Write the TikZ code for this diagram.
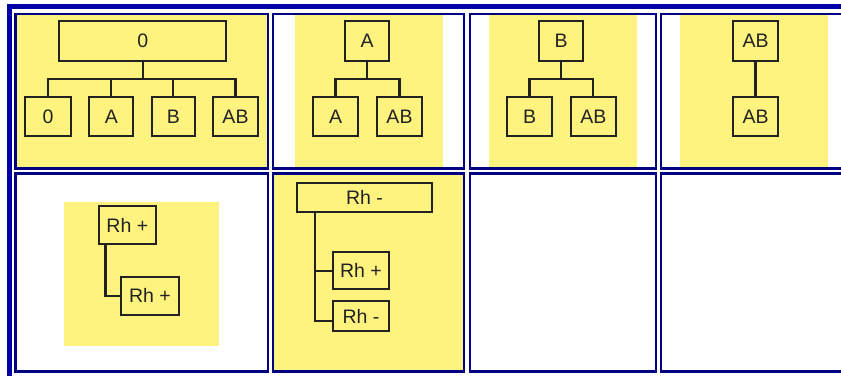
\documentclass[tikz,border=0pt]{standalone}
\usepackage{fontspec}
\setmainfont{Liberation Sans}
\definecolor{outerblue}{HTML}{0000A6}
\definecolor{cellblue}{HTML}{000080}
\definecolor{pyellow}{HTML}{FFF380}
\definecolor{ink}{HTML}{222222}
\begin{document}
\begin{tikzpicture}[x=1pt,y=-1pt,
  cellframe/.style={draw=cellblue,line width=2.6pt},
  panel/.style={fill=pyellow},
  bx/.style={draw=ink,line width=2.2pt,fill=pyellow,inner sep=0pt,text=ink,
    font=\fontsize{19.5}{22}\selectfont},
  wire/.style={draw=ink,line width=2.2pt}]
\useasboundingbox (0,0) rectangle (841,375);
\clip (0,0) rectangle (841,375);
\fill[white] (0,0) rectangle (841,375);
% outer frame
\draw[outerblue,line width=5.2pt] (9.5,6.5) rectangle (900,400);
% yellow panels
\fill[panel] (15.5,14) rectangle (268,168.5);
\fill[panel] (295,15) rectangle (443,168);
\fill[panel] (489,15) rectangle (637,168);
\fill[panel] (680,15) rectangle (828,168);
\fill[panel] (63.5,201.5) rectangle (219,345.5);
\fill[panel] (273,173.5) rectangle (464,371.5);
% cell frames
\draw[cellframe] (15.5,14) rectangle (268,168.5);
\draw[cellframe] (273,14) rectangle (464,168.5);
\draw[cellframe] (470,14) rectangle (656,168.5);
\draw[cellframe] (661,14) rectangle (860,168.5);
\draw[cellframe] (15.5,173.5) rectangle (268,371.5);
\draw[cellframe] (273,173.5) rectangle (464,371.5);
\draw[cellframe] (470,173.5) rectangle (656,371.5);
\draw[cellframe] (661,173.5) rectangle (860,371.5);

% ---- cell 1: 0
\node[bx,minimum width=166.7,minimum height=40] (t0) at (142.7,40.7) {0};
\node[bx,minimum width=45.7,minimum height=39.3] (c00) at (48,116.3) {0};
\node[bx,minimum width=44,minimum height=39.3] (c0a) at (111.3,116.3) {A};
\node[bx,minimum width=43.3,minimum height=39.3] (c0b) at (173.3,116.3) {B};
\node[bx,minimum width=44.4,minimum height=39.3] (c0ab) at (235.5,116.3) {AB};
\coordinate (j0) at (142.7,79);
\draw[wire] (t0.south) -- (j0);
\draw[wire] (c00.north) |- (j0) -| (c0ab.north);
\draw[wire] (c0a.north) -- (c0a.north |- j0);
\draw[wire] (c0b.north) -- (c0b.north |- j0);

% ---- cell 2: A
\node[bx,minimum width=44,minimum height=40] (ta) at (367,40.7) {A};
\node[bx,minimum width=45.6,minimum height=39.3] (caa) at (335.5,116.3) {A};
\node[bx,minimum width=44.4,minimum height=39.3] (caab) at (399.5,116.3) {AB};
\coordinate (ja) at (367,79);
\draw[wire] (ta.south) -- (ja);
\draw[wire] (caa.north) |- (ja) -| (caab.north);

% ---- cell 3: B
\node[bx,minimum width=44.3,minimum height=40] (tb) at (561.2,40.7) {B};
\node[bx,minimum width=45.6,minimum height=39.3] (cbb) at (529.5,116.3) {B};
\node[bx,minimum width=44.7,minimum height=39.3] (cbab) at (593.3,116.3) {AB};
\coordinate (jb) at (561.2,79);
\draw[wire] (tb.south) -- (jb);
\draw[wire] (cbb.north) |- (jb) -| (cbab.north);

% ---- cell 4: AB
\node[bx,minimum width=44.4,minimum height=40] (tab) at (755.5,40.7) {AB};
\node[bx,minimum width=44.4,minimum height=39.3] (cab) at (755.5,116.3) {AB};
\draw[wire] (tab.south) -- (cab.north);

% ---- cell 5: Rh+
\node[bx,minimum width=56.7,minimum height=38.3] (rp) at (127.3,225.2) {Rh +};
\node[bx,minimum width=58,minimum height=38.3] (rpp) at (150,295.9) {Rh +};
\draw[wire] ([xshift=7.7pt]rp.south west) |- (rpp.west);

% ---- cell 6: Rh-
\node[bx,minimum width=134.4,minimum height=29] (rm) at (364.5,197.2) {Rh -};
\node[bx,minimum width=56.6,minimum height=36.7] (rmp) at (361,270.7) {Rh +};
\node[bx,minimum width=56.6,minimum height=30] (rmm) at (361,316) {Rh -};
\draw[wire] ([xshift=18.7pt]rm.south west) |- ([yshift=-5pt]rmm.west);
\draw[wire] (rmp.west) -- ++(-16.7,0);
\end{tikzpicture}
\end{document}
